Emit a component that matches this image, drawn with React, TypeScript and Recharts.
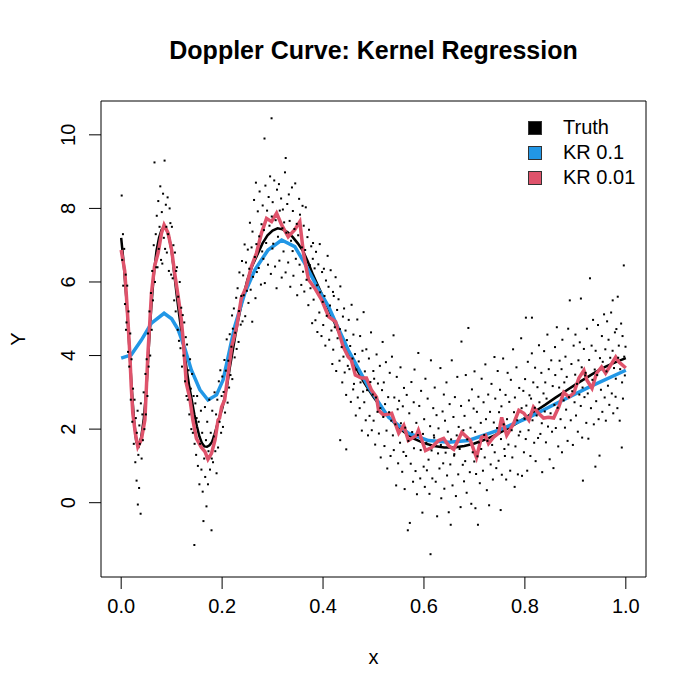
import React from 'react';
import {ComposedChart, Line, Scatter, XAxis, YAxis, ReferenceArea} from 'recharts';

// ---- axes -----------------------------------------------------------------
const FONT = '"Liberation Sans", Arial, Helvetica, sans-serif';
const xTicks = [0, 0.2, 0.4, 0.6, 0.8, 1.0];
const yTicks = [0, 2, 4, 6, 8, 10];
const xDomain: [number, number] = [-0.04, 1.04];
const yDomain: [number, number] = [-2.02, 10.92];

// ---- true doppler curve ----------------------------------------------------
const truthX = [
  0, 0.005, 0.01, 0.015, 0.02, 0.025, 0.03, 0.035, 0.04, 0.045, 0.05, 0.055,
  0.06, 0.065, 0.07, 0.075, 0.08, 0.085, 0.09, 0.095, 0.1, 0.105, 0.11, 0.115,
  0.12, 0.125, 0.13, 0.135, 0.14, 0.145, 0.15, 0.155, 0.16, 0.165, 0.17, 0.175,
  0.18, 0.185, 0.19, 0.195, 0.2, 0.205, 0.21, 0.215, 0.22, 0.225, 0.23, 0.24,
  0.25, 0.26, 0.27, 0.28, 0.29, 0.3, 0.31, 0.32, 0.33, 0.34, 0.35, 0.36, 0.37,
  0.38, 0.39, 0.4, 0.41, 0.42, 0.43, 0.44, 0.45, 0.46, 0.47, 0.48, 0.49, 0.5,
  0.52, 0.54, 0.56, 0.58, 0.6, 0.62, 0.64, 0.66, 0.68, 0.7, 0.72, 0.74, 0.76,
  0.78, 0.8, 0.82, 0.84, 0.86, 0.88, 0.9, 0.92, 0.94, 0.96, 0.98, 1.0,
];
const truthY = [
  7.2, 6.5, 5.6, 4.5, 3.3, 2.3, 1.65, 1.55, 1.8, 2.3, 3.1, 4.3,
  5.4, 6.25, 6.85, 7.2, 7.42, 7.5, 7.42, 7.2, 6.85, 6.25, 5.65, 5.1,
  4.6, 4.1, 3.6, 3.15, 2.78, 2.4, 2.08, 1.8, 1.62, 1.53, 1.52, 1.56,
  1.65, 1.85, 2.1, 2.35, 2.55, 2.85, 3.2, 3.65, 4.05, 4.45, 4.85, 5.5,
  6.05, 6.45, 6.75, 7.05, 7.27, 7.4, 7.46, 7.43, 7.35, 7.22, 7.05, 6.85, 6.55,
  6.2, 5.9, 5.6, 5.3, 4.98, 4.67, 4.37, 4.08, 3.8, 3.55, 3.3, 3.08, 2.87,
  2.5, 2.18, 1.93, 1.74, 1.62, 1.54, 1.5, 1.5, 1.54, 1.61, 1.71, 1.83, 1.97,
  2.13, 2.3, 2.48, 2.66, 2.85, 3.03, 3.21, 3.38, 3.55, 3.7, 3.82, 3.93,
];

// ---- kernel regression, bandwidth 0.1 -------------------------------------
const kr01X = [
  0, 0.02, 0.04, 0.06, 0.085, 0.1, 0.113, 0.126, 0.139, 0.156, 0.172, 0.189,
  0.202, 0.212, 0.225, 0.245, 0.265, 0.291, 0.318, 0.344, 0.364, 0.391, 0.411,
  0.425, 0.45, 0.49, 0.53, 0.569, 0.609, 0.649, 0.688, 0.748, 0.808, 0.867,
  0.927, 1.0,
];
const kr01Y = [
  3.93, 4.02, 4.42, 4.88, 5.15, 5.0, 4.7, 4.2, 3.61, 3.07, 2.79, 2.93,
  3.34, 3.97, 4.79, 5.7, 6.33, 6.87, 7.14, 6.96, 6.5, 5.8, 5.33,
  4.9, 4.15, 3.14, 2.32, 1.89, 1.69, 1.64, 1.69, 1.97, 2.32, 2.73,
  3.14, 3.6,
];

// ---- kernel regression, bandwidth 0.01 ------------------------------------
const kr001X = [
  0, 0.004, 0.007, 0.01, 0.014, 0.017, 0.02, 0.023, 0.028, 0.033, 0.04, 0.047,
  0.05, 0.053, 0.057, 0.06, 0.066, 0.073, 0.08, 0.085, 0.093, 0.1, 0.106,
  0.113, 0.119, 0.123, 0.129, 0.136, 0.142, 0.149, 0.159, 0.166, 0.172, 0.179,
  0.186, 0.192, 0.195, 0.199, 0.205, 0.212, 0.219, 0.229, 0.238, 0.248, 0.258,
  0.268, 0.278, 0.288, 0.298, 0.308, 0.318, 0.331, 0.344, 0.354, 0.361, 0.371,
  0.385, 0.397, 0.411, 0.425, 0.44, 0.45, 0.456, 0.464, 0.476, 0.486, 0.496,
  0.506, 0.51, 0.52, 0.536, 0.55, 0.56, 0.569, 0.585, 0.589, 0.603, 0.615,
  0.629, 0.639, 0.649, 0.659, 0.675, 0.692, 0.704, 0.714, 0.722, 0.728, 0.738,
  0.748, 0.754, 0.764, 0.778, 0.788, 0.798, 0.808, 0.817, 0.827, 0.837, 0.847,
  0.857, 0.867, 0.877, 0.887, 0.897, 0.907, 0.917, 0.923, 0.933, 0.942, 0.952,
  0.96, 0.97, 0.98, 0.986, 1.0,
];
const kr001Y = [
  6.87, 6.55, 6.3, 5.7, 4.8, 4.07, 3.15, 2.43, 1.89, 1.52, 1.71, 2.25,
  3.15, 4.06, 4.97, 5.69, 6.42, 6.78, 7.33, 7.55, 7.33, 6.87, 6.24,
  5.6, 5.0, 4.4, 3.25, 2.84, 2.25, 1.75, 1.5, 1.39, 1.18, 1.34,
  1.71, 2.25, 2.3, 2.6, 2.79, 3.52, 4.24, 4.79, 5.56, 5.87, 6.42,
  6.78, 7.33, 7.73, 7.64, 7.87, 7.55, 7.23, 7.42, 7.64, 6.8, 6.07,
  5.8, 5.52, 5.06, 4.92, 4.24, 3.96, 3.88, 3.47, 3.39, 3.39, 3.06,
  2.87, 2.51, 2.38, 2.43, 1.89, 2.1, 1.69, 1.83, 1.97, 1.42, 1.5,
  1.69, 1.75, 1.55, 1.45, 1.91, 1.69, 1.23, 1.78, 1.83, 1.61, 1.78,
  1.89, 2.32, 1.83, 2.16, 2.51, 2.43, 2.24, 2.6, 2.43, 2.3, 2.32,
  2.3, 2.6, 3.0, 2.87, 2.98, 3.39, 3.6, 3.33, 3.11, 3.52, 3.69,
  3.52, 3.74, 3.96, 3.83, 3.66,
];

// ---- noisy observations (estimated from the cloud) -------------------------
const observations: [number, number][] = [
  [0.001, 8.35], [0.002, 6.6], [0.0035, 7.3], [0.004, 5.9], [0.006, 6.9], [0.0075, 5.4], [0.009, 6.2], [0.0095, 4.7],
  [0.0105, 4.9], [0.012, 5.9], [0.0135, 4.1], [0.0145, 5.2], [0.016, 3.7], [0.018, 4.6], [0.019, 2.8],
  [0.0205, 3.9], [0.022, 2.2], [0.0235, 3.1], [0.025, 1.6], [0.0265, 2.8], [0.028, 1.1], [0.029, 2.3],
  [0.0305, 0.6], [0.031, 1.9], [0.0325, 2.5], [0.033, -0.05], [0.034, 1.3], [0.0355, 0.4], [0.036, 2.1], [0.037, 1.6], [0.0385, -0.3], [0.039, 2.7],
  [0.0405, 1.2], [0.042, 2.4], [0.043, 1.7], [0.0445, 3.0], [0.046, 2.0], [0.048, 3.5], [0.049, 2.4],
  [0.0505, 3.9], [0.052, 2.9], [0.053, 4.6], [0.0545, 3.7], [0.056, 5.2], [0.0575, 4.0], [0.059, 5.7],
  [0.0605, 4.7], [0.0615, 6.3], [0.063, 5.5], [0.0645, 7.0], [0.066, 9.25], [0.067, 6.0], [0.0685, 7.3], [0.0695, 6.4],
  [0.0705, 7.8], [0.072, 6.4], [0.0735, 8.2], [0.0745, 6.9], [0.076, 7.5], [0.0775, 8.6], [0.079, 6.6],
  [0.0805, 7.9], [0.0815, 6.5], [0.083, 8.4], [0.0845, 7.2], [0.086, 9.3], [0.087, 6.9], [0.0885, 8.1], [0.0895, 7.5],
  [0.0905, 6.8], [0.092, 8.3], [0.093, 7.3], [0.0945, 6.3], [0.096, 8.0], [0.0975, 7.6], [0.099, 6.2],
  [0.1005, 7.5], [0.102, 6.1], [0.1035, 7.0], [0.105, 5.5], [0.1065, 6.8], [0.108, 5.2], [0.109, 6.3],
  [0.1105, 6.4], [0.112, 4.7], [0.113, 5.6], [0.1145, 4.4], [0.116, 6.0], [0.1175, 4.2], [0.119, 5.3],
  [0.1205, 3.7], [0.122, 5.1], [0.1235, 4.0], [0.125, 4.9], [0.1265, 3.3], [0.128, 4.5], [0.1295, 2.9],
  [0.1305, 4.3], [0.132, 2.8], [0.1335, 3.6], [0.135, 2.4], [0.1365, 3.9], [0.138, 3.1], [0.139, 2.0],
  [0.1405, 3.5], [0.142, 1.9], [0.1435, 2.9], [0.145, -1.15], [0.1455, 1.6], [0.147, 2.7], [0.1485, 1.3], [0.1495, 2.3],
  [0.1505, 2.9], [0.152, 1.0], [0.1535, 2.2], [0.155, 0.5], [0.1565, 1.6], [0.158, 2.5], [0.159, 0.9],
  [0.1605, 1.9], [0.1615, 0.3], [0.163, -0.5], [0.1645, 1.2], [0.166, 2.6], [0.1665, 0.7], [0.168, 1.7], [0.169, -0.1],
  [0.1705, 2.2], [0.172, 0.5], [0.173, 1.4], [0.1745, 2.8], [0.176, 0.9], [0.1775, 1.9], [0.179, -0.75], [0.1795, 1.2],
  [0.1805, 2.5], [0.182, 1.1], [0.1835, 1.8], [0.185, 3.0], [0.1865, 1.4], [0.188, 2.4], [0.189, 0.8],
  [0.1905, 2.8], [0.192, 1.5], [0.1935, 3.3], [0.195, 2.2], [0.1965, 3.6], [0.198, 1.9], [0.199, 2.9],
  [0.2004, 3.43], [0.2017, 2.06], [0.2029, 3.01], [0.2046, 3.88], [0.2058, 2.45], [0.2073, 3.59], [0.2091, 4.44],
  [0.2109, 2.72], [0.2122, 3.86], [0.2138, 3.13], [0.2151, 4.58], [0.2166, 3.47], [0.2184, 4.24], [0.2197, 5.09],
  [0.2202, 3.36], [0.2213, 4.73], [0.2233, 5.28], [0.2249, 3.95], [0.2261, 4.62], [0.2279, 5.57], [0.2288, 4.18],
  [0.2307, 5.83], [0.2326, 4.37], [0.2335, 5.21], [0.2343, 6.26], [0.2369, 4.84], [0.2381, 5.62], [0.2394, 6.57],
  [0.2404, 4.93], [0.2417, 6.18], [0.2429, 5.64], [0.2446, 7.02], [0.2458, 5.07], [0.2473, 6.53], [0.2491, 5.76],
  [0.2509, 6.88], [0.2522, 5.43], [0.2538, 6.36], [0.2551, 7.61], [0.2566, 5.79], [0.2584, 6.94], [0.2597, 4.92],
  [0.2602, 7.37], [0.2613, 6.14], [0.2633, 8.23], [0.2649, 6.68], [0.2661, 5.56], [0.267, 8.7], [0.2679, 7.03], [0.2688, 6.27],
  [0.2707, 7.92], [0.2726, 6.38], [0.2735, 7.24], [0.2743, 8.46], [0.2769, 5.93], [0.2781, 7.57], [0.2794, 6.83],
  [0.2804, 8.08], [0.2817, 6.63], [0.2829, 7.41], [0.284, 9.9], [0.2846, 5.97], [0.2858, 8.62], [0.2873, 7.06], [0.2891, 7.94],
  [0.2909, 6.47], [0.2922, 8.31], [0.2938, 7.53], [0.2951, 8.87], [0.2966, 6.22], [0.298, 10.45], [0.2984, 7.78], [0.2997, 6.91],
  [0.3002, 8.17], [0.3013, 7.04], [0.3033, 8.76], [0.3049, 6.42], [0.3061, 7.68], [0.3079, 5.83], [0.3088, 8.51],
  [0.3107, 7.23], [0.3126, 8.66], [0.3135, 6.58], [0.3143, 7.94], [0.3169, 8.27], [0.3181, 6.12], [0.3194, 7.46],
  [0.3204, 7.97], [0.3217, 6.83], [0.3229, 7.62], [0.3246, 8.98], [0.326, 9.37], [0.3258, 6.26], [0.3273, 7.34], [0.3291, 8.12],
  [0.3309, 6.53], [0.3322, 8.38], [0.3338, 7.66], [0.3351, 5.87], [0.3366, 7.12], [0.3384, 8.57], [0.3397, 6.84],
  [0.3402, 7.93], [0.3413, 6.17], [0.3433, 7.44], [0.3449, 8.68], [0.3461, 6.63], [0.3479, 7.58], [0.3488, 5.64],
  [0.3507, 7.27], [0.3526, 8.26], [0.3535, 6.47], [0.3543, 7.83], [0.3569, 5.92], [0.3581, 6.94], [0.3594, 8.07],
  [0.3604, 6.28], [0.3617, 7.53], [0.3629, 5.74], [0.3646, 6.87], [0.3658, 8.03], [0.3673, 6.06], [0.3691, 7.22],
  [0.3709, 5.37], [0.3722, 7.42], [0.3738, 6.46], [0.3751, 5.83], [0.3766, 6.97], [0.3784, 4.88], [0.3797, 6.63],
  [0.3802, 7.06], [0.3813, 5.52], [0.3833, 6.37], [0.3849, 4.96], [0.3861, 6.82], [0.3879, 5.91], [0.3888, 4.64],
  [0.3907, 6.48], [0.3926, 5.17], [0.3935, 7.03], [0.3943, 5.72], [0.3969, 4.53], [0.3981, 6.27], [0.3994, 5.46],
  [0.4004, 4.83], [0.4017, 6.36], [0.4029, 5.62], [0.4046, 4.27], [0.4058, 6.04], [0.4073, 5.08], [0.4091, 6.71],
  [0.4109, 5.87], [0.4122, 4.43], [0.4138, 5.36], [0.4151, 6.32], [0.4166, 4.68], [0.4184, 3.77], [0.4197, 5.73],
  [0.4202, 4.16], [0.4213, 5.62], [0.4233, 4.77], [0.4249, 6.13], [0.4261, 3.58], [0.4279, 5.24], [0.4288, 4.47],
  [0.4307, 5.53], [0.4326, 3.86], [0.4335, 4.72], [0.434, 1.7], [0.4343, 5.88], [0.4369, 4.23], [0.4381, 3.27], [0.4394, 5.06],
  [0.4404, 3.97], [0.4417, 5.28], [0.4429, 3.54], [0.4446, 4.68], [0.446, 1.45], [0.4458, 2.93], [0.4473, 4.42], [0.4491, 3.72],
  [0.4509, 4.97], [0.4522, 3.63], [0.4538, 4.26], [0.4551, 2.74], [0.4566, 5.38], [0.4584, 3.92], [0.4597, 3.08],
  [0.4602, 4.57], [0.4613, 3.23], [0.4633, 4.04], [0.4649, 2.37], [0.4661, 3.62], [0.4679, 4.98], [0.4688, 2.86],
  [0.4707, 3.84], [0.4726, 2.57], [0.4735, 4.53], [0.4743, 3.27], [0.4769, 1.96], [0.4781, 4.13], [0.4794, 3.02],
  [0.4804, 5.18], [0.4817, 2.73], [0.4829, 3.57], [0.4846, 2.24], [0.4858, 4.17], [0.4873, 3.06], [0.4891, 1.83],
  [0.4909, 3.92], [0.4922, 2.36], [0.4938, 3.28], [0.4951, 4.63], [0.4966, 1.97], [0.4984, 2.94], [0.4997, 3.58],
  [0.5002, 2.23], [0.5013, 3.37], [0.5033, 1.58], [0.5049, 2.86], [0.5061, 4.03], [0.5079, 2.47], [0.5088, 3.24],
  [0.5107, 1.88], [0.5126, 3.72], [0.5135, 2.57], [0.5143, 1.23], [0.5169, 3.06], [0.5181, 4.37], [0.5194, 2.33],
  [0.5204, 3.27], [0.5217, 1.54], [0.5229, 2.68], [0.5246, 3.82], [0.5258, 1.96], [0.5273, 0.93], [0.5291, 2.87],
  [0.5309, 2.46], [0.5322, 3.53], [0.5338, 1.27], [0.5351, 2.23], [0.5366, 3.97], [0.5384, 1.83], [0.5397, 4.55],
  [0.5402, 1.43], [0.5413, 2.86], [0.5433, 2.13], [0.5449, 0.47], [0.5461, 3.42], [0.5479, 2.54], [0.5488, 1.07],
  [0.5507, 2.77], [0.5526, 1.63], [0.5535, 3.68], [0.5543, 2.16], [0.5569, 0.84], [0.5581, 2.62], [0.5594, 1.38],
  [0.5604, 3.12], [0.5617, 0.37], [0.5629, 2.04], [0.5646, 1.27], [0.5658, 2.93], [0.568, -0.75], [0.5691, 1.68],
  [0.5709, 2.43], [0.572, -0.55], [0.5738, 1.06], [0.5751, 3.28], [0.5766, 1.92], [0.5784, 0.57], [0.5797, 2.73],
  [0.5802, 1.48], [0.5813, 3.62], [0.5833, 0.86], [0.5849, 2.17], [0.5861, 0.23], [0.5879, 1.84], [0.5888, 4.07],
  [0.5907, 2.63], [0.5926, 0.66], [0.5935, 1.43], [0.5943, 3.04], [0.5969, -0.27], [0.5981, 1.87], [0.5994, 0.98],
  [0.6004, 2.27], [0.6017, 0.43], [0.6029, 3.37], [0.6046, 1.63], [0.6058, 0.88], [0.6073, 2.83], [0.6091, 1.17],
  [0.6109, 0.24], [0.6122, 2.08], [0.613, -1.4], [0.6138, 3.87], [0.6151, 1.42], [0.6166, 0.66], [0.6184, 2.57], [0.6197, 1.83],
  [0.6202, 1.77], [0.6213, 3.13], [0.6233, 0.57], [0.6249, 2.38], [0.6261, -0.37], [0.6279, 1.34], [0.6288, 2.02],
  [0.6307, 0.93], [0.6326, 3.66], [0.6335, 1.57], [0.6343, 0.12], [0.6369, 2.48], [0.6381, 1.07], [0.6394, 2.94],
  [0.6404, 0.38], [0.6417, 2.23], [0.6429, 1.36], [0.6446, 3.27], [0.6458, 0.74], [0.6473, 1.93], [0.6491, -0.26],
  [0.6509, 2.68], [0.6522, 1.04], [0.653, -0.6], [0.6538, 1.72], [0.6551, 3.87], [0.6566, 0.47], [0.6584, 2.33], [0.6597, 1.28],
  [0.6602, 1.32], [0.6613, 2.87], [0.6633, 0.18], [0.6649, 1.83], [0.6661, 3.42], [0.6679, 0.77], [0.6688, 2.06],
  [0.6707, 1.46], [0.6726, -0.12], [0.6735, 2.63], [0.6743, 4.38], [0.6769, 1.03], [0.6781, 1.97], [0.6794, 0.58],
  [0.6804, 2.36], [0.6817, 1.13], [0.6829, 3.47], [0.6846, 0.27], [0.6858, 1.72], [0.688, 4.75], [0.6891, 2.78],
  [0.6909, 0.83], [0.6922, 2.04], [0.6938, -0.03], [0.6951, 3.08], [0.6966, 1.37], [0.6984, 2.56], [0.6997, 1.12],
  [0.7002, 3.57], [0.702, -0.15], [0.7013, 1.93], [0.7033, 0.78], [0.7049, 2.47], [0.707, -0.6], [0.7061, 1.26], [0.7079, 2.88], [0.7088, 1.64],
  [0.7107, 0.53], [0.7126, 2.17], [0.7135, 1.46], [0.7143, 3.37], [0.7169, 0.87], [0.7181, 2.73], [0.7194, 1.84],
  [0.7204, 1.23], [0.7217, 3.76], [0.7229, 2.27], [0.7246, 0.34], [0.7258, 1.68], [0.7273, 2.94], [0.7291, -0.07],
  [0.7309, 2.47], [0.7322, 1.04], [0.7338, 3.23], [0.7351, 1.57], [0.7366, 0.63], [0.7384, 2.18], [0.7397, 3.96],
  [0.7402, 1.37], [0.7413, 2.83], [0.7433, 0.94], [0.7449, 2.03], [0.7461, 3.58], [0.7479, 1.14], [0.7488, 2.46],
  [0.7507, 3.07], [0.752, -0.2], [0.7526, 1.73], [0.7535, 2.62], [0.7543, 0.76], [0.7569, 3.92], [0.7581, 2.13], [0.7594, 1.46],
  [0.7604, 1.27], [0.7617, 2.93], [0.7629, 0.63], [0.7646, 2.27], [0.7658, 3.53], [0.7673, 1.58], [0.7691, 2.74],
  [0.7709, 0.87], [0.7722, 3.34], [0.7738, 1.97], [0.7751, 1.23], [0.7766, 4.17], [0.7784, 2.46], [0.7797, 0.43],
  [0.7802, 2.86], [0.7813, 1.53], [0.7833, 3.68], [0.7849, 2.24], [0.7861, 0.77], [0.7879, 1.83], [0.7888, 3.12],
  [0.7907, 1.93], [0.7926, 4.47], [0.7935, 2.57], [0.7943, 0.73], [0.7969, 3.04], [0.7981, 1.37], [0.7994, 2.28],
  [0.8004, 3.36], [0.802, 5.03], [0.8017, 1.73], [0.8029, 2.64], [0.8046, 0.87], [0.8058, 3.83], [0.8073, 1.97], [0.8091, 2.92],
  [0.8109, 1.27], [0.8122, 2.83], [0.8138, 4.06], [0.814, 5.03], [0.8151, 2.24], [0.8166, 3.27], [0.8184, 1.63], [0.8197, 2.58],
  [0.8202, 3.67], [0.8213, 1.13], [0.8233, 2.37], [0.8249, 3.14], [0.8261, 1.76], [0.8279, 4.28], [0.8288, 2.73],
  [0.8307, 1.87], [0.8326, 3.53], [0.8335, 2.16], [0.8343, 0.83], [0.8369, 2.97], [0.8381, 4.12], [0.8394, 2.48],
  [0.8404, 3.27], [0.8417, 1.64], [0.8429, 2.83], [0.8446, 4.57], [0.8458, 2.07], [0.8473, 3.63], [0.8491, 1.18],
  [0.8509, 2.43], [0.8522, 3.87], [0.8538, 1.93], [0.8551, 3.17], [0.8566, 0.94], [0.8584, 2.66], [0.8597, 4.23],
  [0.8602, 3.47], [0.8613, 2.03], [0.8633, 4.77], [0.8649, 2.58], [0.8661, 1.53], [0.8679, 3.13], [0.8688, 3.86],
  [0.8707, 2.27], [0.8726, 3.63], [0.8735, 1.37], [0.8743, 4.43], [0.8769, 2.78], [0.8781, 3.27], [0.8794, 2.04],
  [0.8804, 3.97], [0.8817, 2.53], [0.8829, 3.42], [0.8846, 1.68], [0.8858, 4.73], [0.8873, 2.87], [0.889, 5.5],
  [0.8909, 2.24], [0.8922, 3.77], [0.8938, 3.03], [0.8951, 1.57], [0.8966, 4.27], [0.8984, 2.73], [0.8997, 3.48],
  [0.9002, 4.57], [0.9013, 2.37], [0.9033, 3.23], [0.9049, 1.93], [0.9061, 3.87], [0.9079, 2.94], [0.9088, 4.36],
  [0.9107, 2.63], [0.911, 5.55], [0.9126, 3.68], [0.9135, 1.77], [0.915, 0.6], [0.9143, 3.13], [0.9169, 4.18], [0.9181, 2.87], [0.9194, 3.46],
  [0.9204, 3.53], [0.9217, 2.17], [0.9229, 4.73], [0.9246, 2.97], [0.9258, 1.74], [0.9273, 3.88], [0.929, 6.1],
  [0.9309, 2.57], [0.9322, 4.27], [0.9338, 3.34], [0.9351, 4.97], [0.9366, 2.13], [0.9384, 3.62], [0.9397, 0.98],
  [0.9402, 4.13], [0.9413, 2.76], [0.9433, 3.47], [0.9449, 4.83], [0.9461, 2.27], [0.9479, 1.28], [0.9488, 3.93],
  [0.9507, 3.07], [0.9526, 4.53], [0.9535, 2.47], [0.9543, 3.83], [0.9569, 5.12], [0.9581, 2.86], [0.9594, 4.17],
  [0.9604, 2.23], [0.9617, 3.57], [0.9629, 4.93], [0.9646, 3.18], [0.9658, 4.43], [0.9673, 2.66], [0.9691, 3.94],
  [0.9709, 5.17], [0.9722, 2.97], [0.9738, 4.13], [0.974, 5.5], [0.9751, 2.43], [0.9766, 3.66], [0.9784, 4.63], [0.9797, 2.88],
  [0.9802, 3.37], [0.9813, 4.72], [0.9833, 2.57], [0.984, 5.6], [0.9849, 3.94], [0.9861, 4.27], [0.9879, 2.23], [0.9888, 3.63],
  [0.9907, 4.87], [0.992, 1.5], [0.9926, 3.27], [0.9935, 4.53], [0.996, 6.45], [0.9943, 2.83], [0.9969, 3.97], [0.9981, 3.46], [0.9994, 4.24],
];

// ---- legend --------------------------------------------------------------
const legendLabels = ['Truth', 'KR 0.1', 'KR 0.01'];
const legendColors = ['#000000', '#2297E6', '#DF536B'];

const toRows = (xs: number[], ys: number[]) => xs.map((x, i) => ({x, y: ys[i]}));

const truthData = toRows(truthX, truthY);
const kr01Data = toRows(kr01X, kr01Y);
const kr001Data = toRows(kr001X, kr001Y);
const obsData = observations.map(([x, y]) => ({x, y}));

const XTick = (props: any) => {
  const {x, y, payload} = props;
  return (
    <text x={x} y={y + 22} textAnchor='middle' fontSize={20} fontFamily={FONT} fill='#000'>
      {Number(payload.value).toFixed(1)}
    </text>
  );
};

const YTick = (props: any) => {
  const {x, y, payload} = props;
  const tx = x - 12;
  return (
    <text
      x={tx}
      y={y}
      transform={`rotate(-90 ${tx} ${y})`}
      textAnchor='middle'
      fontSize={20}
      fontFamily={FONT}
      fill='#000'>
      {payload.value}
    </text>
  );
};

const XLabel = (props: any) => {
  const vb = props.viewBox || {x: 101, y: 577, width: 545, height: 123};
  return (
    <text x={vb.x + vb.width / 2} y={vb.y + 87} textAnchor='middle' fontSize={20} fontFamily={FONT} fill='#000'>
      x
    </text>
  );
};

const YLabel = (props: any) => {
  const vb = props.viewBox || {x: 0, y: 101, width: 101, height: 476};
  const cx = 25;
  const cy = vb.y + vb.height / 2;
  return (
    <text x={cx} y={cy} transform={`rotate(-90 ${cx} ${cy})`} textAnchor='middle' fontSize={20} fontFamily={FONT} fill='#000'>
      Y
    </text>
  );
};

const Dot = (props: any) => {
  const {cx, cy} = props;
  if (cx == null || cy == null) return null;
  return <rect x={cx - 1} y={cy - 1} width={2} height={2} fill='#000' />;
};

const App: React.FC = () => {
  return (
    <div style={{position: 'absolute', left: 0, top: 0, width: 700, height: 700, background: '#fff', fontFamily: FONT}}>
      <div
        style={{
          position: 'absolute',
          left: 101,
          width: 545,
          top: 38,
          textAlign: 'center',
          fontSize: 25,
          lineHeight: '25px',
          fontWeight: 'bold',
          color: '#000',
        }}>
        Doppler Curve: Kernel Regression
      </div>

      <ComposedChart width={700} height={700} margin={{top: 101, right: 54, bottom: 0, left: 0}}>
        <XAxis
          type='number'
          dataKey='x'
          domain={xDomain}
          ticks={xTicks}
          allowDataOverflow
          axisLine={false}
          tickLine={{stroke: '#000'}}
          tickSize={12}
          height={123}
          tick={<XTick />}
          label={<XLabel />}
        />
        <YAxis
          type='number'
          dataKey='y'
          domain={yDomain}
          ticks={yTicks}
          allowDataOverflow
          axisLine={false}
          tickLine={{stroke: '#000'}}
          tickSize={12}
          width={101}
          tick={<YTick />}
          label={<YLabel />}
        />
        <Scatter data={obsData} dataKey='y' shape={<Dot />} isAnimationActive={false} />
        <Line data={truthData} dataKey='y' type='linear' stroke='#000' strokeWidth={2.5} dot={false} activeDot={false} isAnimationActive={false} />
        <Line data={kr01Data} dataKey='y' type='linear' stroke='#2297E6' strokeWidth={3.5} dot={false} activeDot={false} isAnimationActive={false} />
        <Line data={kr001Data} dataKey='y' type='linear' stroke='#DF536B' strokeWidth={3.5} dot={false} activeDot={false} isAnimationActive={false} />
        <ReferenceArea x1={xDomain[0]} x2={xDomain[1]} y1={yDomain[0]} y2={yDomain[1]} fill='none' stroke='#000' strokeWidth={1} ifOverflow='visible' />
      </ComposedChart>

      {/* legend, top-right inside the plot box */}
      <div style={{position: 'absolute', left: 528, top: 115}}>
        {legendLabels.map((label, i) => (
          <div key={label} style={{display: 'flex', alignItems: 'center', height: 25}}>
            <div
              style={{
                width: 12,
                height: 12,
                background: legendColors[i],
                border: '1px solid #333',
                marginRight: 21,
              }}
            />
            <span style={{fontSize: 20, lineHeight: '25px', color: '#000'}}>{label}</span>
          </div>
        ))}
      </div>
    </div>
  );
};

export default App;
